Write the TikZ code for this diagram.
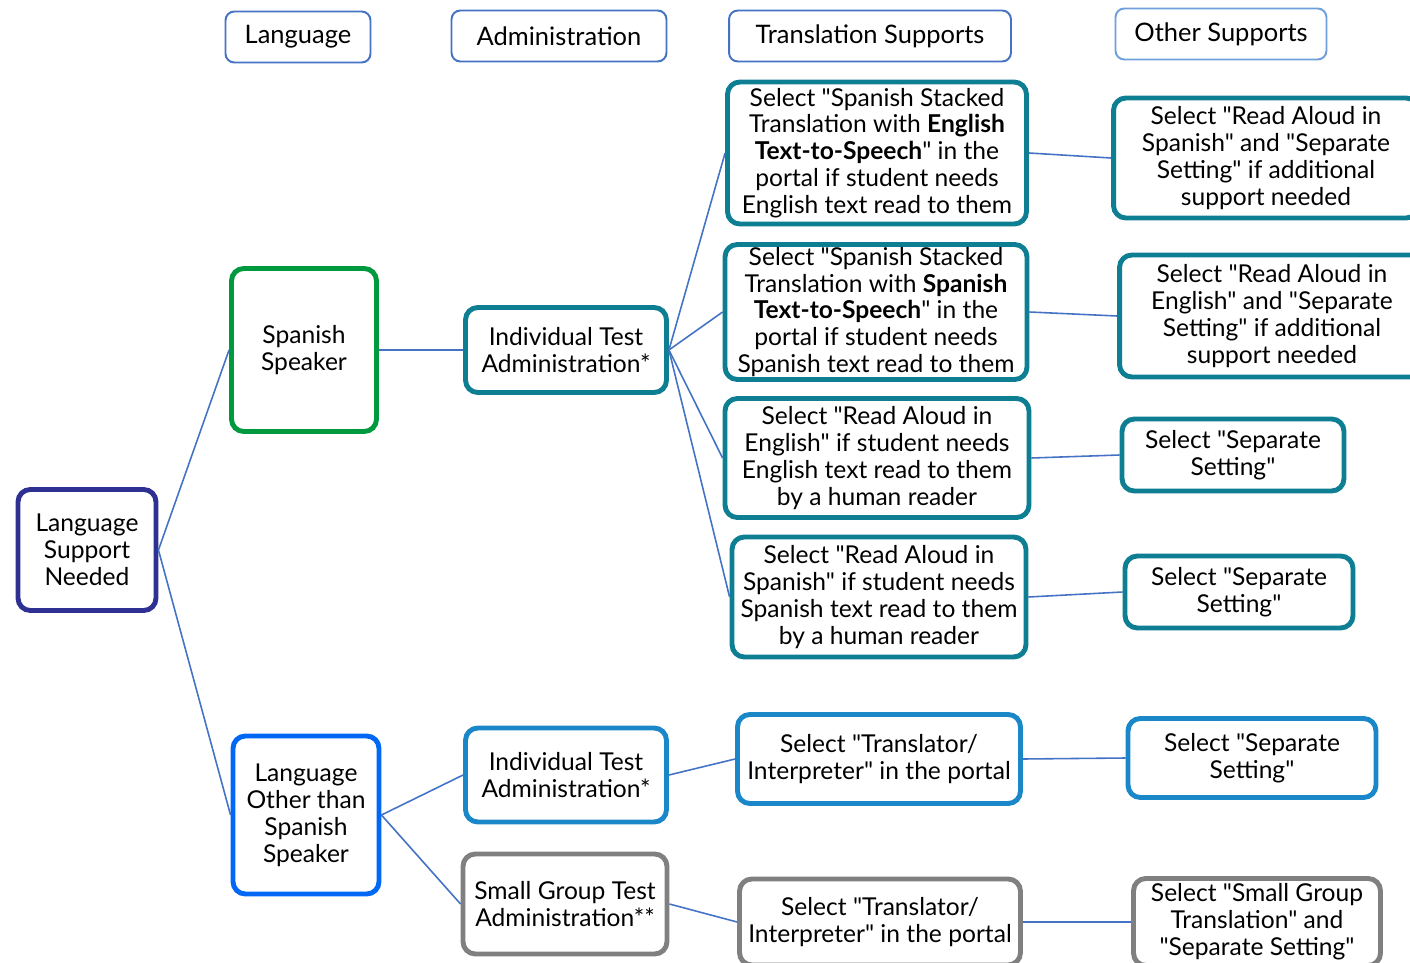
\documentclass[tikz,border=0pt]{standalone}
\usepackage{fontspec}
\setmainfont{Lato}[Ligatures=TeXOff]
\usetikzlibrary{calc}

\definecolor{indigo}{RGB}{46,49,146}
\definecolor{leafgreen}{RGB}{0,154,62}
\definecolor{teal}{RGB}{14,126,147}
\definecolor{brightblue}{RGB}{0,104,245}
\definecolor{midblue}{RGB}{26,136,200}
\definecolor{boxgray}{RGB}{128,128,128}
\definecolor{linkblue}{RGB}{68,114,196}
\definecolor{paleblue}{RGB}{111,160,220}

\tikzset{
  box/.style={draw, line width=2.8pt, rounded corners=7pt, fill=white,
    align=center, inner sep=0pt, font=\fontsize{14}{15.3}\selectfont},
  head/.style={draw=linkblue, line width=1.1pt, rounded corners=5pt,
    align=center, inner sep=0pt, minimum height=1.02cm,
    font=\fontsize{14.5}{16}\selectfont},
  link/.style={linkblue, line width=0.9pt}
}

\begin{document}
\begin{tikzpicture}[x=0.02cm, y=-0.02cm]

\useasboundingbox (0,0) rectangle (1410,963);

% Column headers
\node[head, minimum width=2.9cm] (hLang) at (298,37) {Language};
\node[head, minimum width=4.3cm] (hAdmin) at (559,36) {Administration};
\node[head, minimum width=5.64cm] (hTrans) at (870,36) {Translation Supports};
\node[head, draw=paleblue, minimum width=4.22cm] (hOther) at (1221,34) {Other Supports};

% Root
\node[box, draw=indigo, minimum width=2.76cm, minimum height=2.42cm] (root) at (87,550)
  {Language\\Support\\Needed};

% Language column
\node[box, draw=leafgreen, minimum width=2.9cm, minimum height=3.26cm] (spanish) at (304,350)
  {Spanish\\Speaker};
\node[box, draw=brightblue, minimum width=2.92cm, minimum height=3.16cm] (otherlang) at (306,815)
  {Language\\Other than\\Spanish\\Speaker};

% Administration column
\node[box, draw=teal, minimum width=4.02cm, minimum height=1.7cm] (indivS) at (566,350)
  {Individual Test\\Administration*};
\node[box, draw=midblue, minimum width=4.02cm, minimum height=1.88cm] (indivO) at (566,775)
  {Individual Test\\Administration*};
\node[box, draw=boxgray, minimum width=4.08cm, minimum height=2.0cm] (group) at (565,904)
  {Small Group Test\\Administration**};

% Translation supports column
\node[box, draw=teal, minimum width=5.98cm, minimum height=2.84cm] (tEng) at (877,153)
  {Select "Spanish Stacked\\Translation with \textbf{English}\\\textbf{Text-to-Speech}" in the\\portal if student needs\\English text read to them};
\node[box, draw=teal, minimum width=6.04cm, minimum height=2.7cm] (tSpa) at (876,312)
  {Select "Spanish Stacked\\Translation with \textbf{Spanish}\\\textbf{Text-to-Speech}" in the\\portal if student needs\\Spanish text read to them};
\node[box, draw=teal, minimum width=6.08cm, minimum height=2.38cm] (rEng) at (877,458)
  {Select "Read Aloud in\\English" if student needs\\English text read to them\\by a human reader};
\node[box, draw=teal, minimum width=5.88cm, minimum height=2.4cm] (rSpa) at (879,597)
  {Select "Read Aloud in\\Spanish" if student needs\\Spanish text read to them\\by a human reader};
\node[box, draw=midblue, minimum width=5.66cm, minimum height=1.78cm] (interpO) at (879,759)
  {Select "Translator/\\Interpreter" in the portal};
\node[box, draw=boxgray, minimum width=5.62cm, minimum height=1.72cm] (interpG) at (880,922)
  {Select "Translator/\\Interpreter" in the portal};

% Other supports column
\node[box, draw=teal, minimum width=6.1cm, minimum height=2.4cm] (oEng) at (1266,158)
  {Select "Read Aloud in\\Spanish" and "Separate\\Setting" if additional\\support needed};
\node[box, draw=teal, minimum width=6.1cm, minimum height=2.44cm] (oSpa) at (1272,316)
  {Select "Read Aloud in\\English" and "Separate\\Setting" if additional\\support needed};
\node[box, draw=teal, minimum width=4.44cm, minimum height=1.44cm] (sepA) at (1233,455)
  {Select "Separate\\Setting"};
\node[box, draw=teal, minimum width=4.56cm, minimum height=1.44cm] (sepB) at (1239,592)
  {Select "Separate\\Setting"};
\node[box, draw=midblue, minimum width=4.96cm, minimum height=1.58cm] (sepO) at (1252,758)
  {Select "Separate\\Setting"};
\node[box, draw=boxgray, minimum width=4.94cm, minimum height=1.74cm] (sepG) at (1257,922)
  {Select "Small Group\\Translation" and\\"Separate Setting"};

% Connectors
\draw[link] (root.east) -- (spanish.west);
\draw[link] (root.east) -- (otherlang.west);
\draw[link] (spanish.east) -- (indivS.west);
\draw[link] (otherlang.east) -- (indivO.west);
\draw[link] (otherlang.east) -- (group.west);

\draw[link] (indivS.east) -- (tEng.west);
\draw[link] (indivS.east) -- (tSpa.west);
\draw[link] (indivS.east) -- (rEng.west);
\draw[link] (indivS.east) -- (rSpa.west);
\draw[link] (indivO.east) -- (interpO.west);
\draw[link] (group.east) -- (interpG.west);

\draw[link] (tEng.east) -- (oEng.west);
\draw[link] (tSpa.east) -- (oSpa.west);
\draw[link] (rEng.east) -- (sepA.west);
\draw[link] (rSpa.east) -- (sepB.west);
\draw[link] (interpO.east) -- (sepO.west);
\draw[link] (interpG.east) -- (sepG.west);

\end{tikzpicture}
\end{document}
